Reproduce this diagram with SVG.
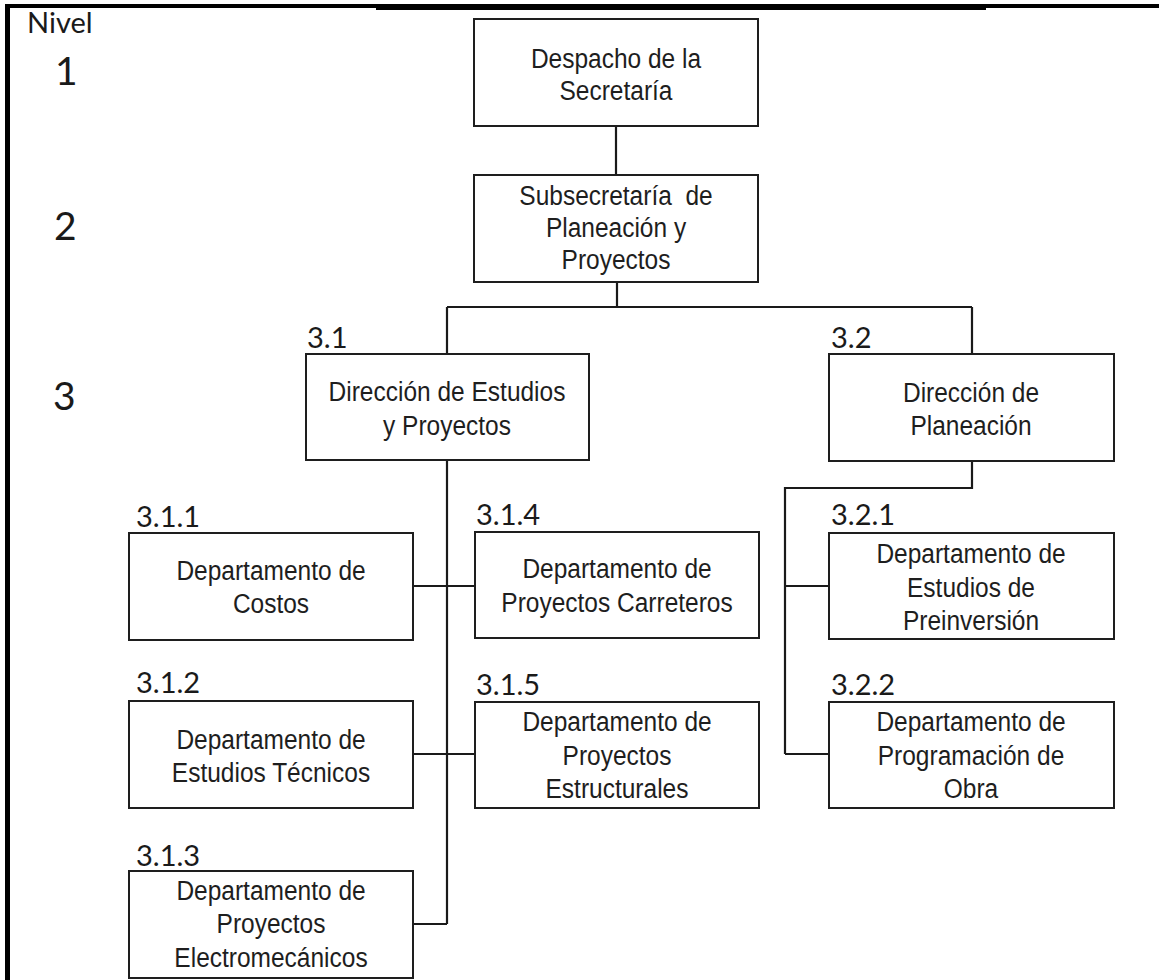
<svg xmlns="http://www.w3.org/2000/svg" width="1159" height="980" viewBox="0 0 1159 980">
  <style>
    .box { fill: #ffffff; stroke: #1e1e1e; stroke-width: 2; }
    .wire { fill: none; stroke: #1a1a1a; stroke-width: 2.2; }
    .t { font-family: "Liberation Sans", Arial, sans-serif; font-size: 28px; fill: #1e1e1e; text-anchor: middle; }
    .code { font-family: Lato, "Open Sans", "Liberation Sans", sans-serif; font-size: 29px; fill: #1a1a1a; }
    .lvl { font-family: Lato, "Open Sans", "Liberation Sans", sans-serif; font-size: 39px; fill: #1a1a1a; }
  </style>

  <rect x="0" y="0" width="1159" height="980" fill="#ffffff"/>

  <!-- page frame -->
  <g id="frame" fill="#000000">
    <rect x="5" y="4" width="1154" height="4"/>
    <rect x="376" y="4" width="610" height="6"/>
    <rect x="5" y="4" width="5" height="976"/>
  </g>

  <!-- level column -->
  <g id="levels">
    <text class="code" x="27" y="33">Nivel</text>
    <text class="lvl" x="55" y="85">1</text>
    <text class="lvl" x="54" y="240">2</text>
    <text class="lvl" x="53" y="410">3</text>
  </g>

  <!-- connectors -->
  <g id="connectors">
    <path class="wire" d="M616 126 V175"/>
    <path class="wire" d="M617 282 V307 M447 307 H972 M447 307 V354 M972 307 V354"/>
    <path class="wire" d="M447 460 V924 M413 586 H475 M413 754 H475 M413 924 H447"/>
    <path class="wire" d="M972 461 V488 H785 V754 M785 586 H829 M785 754 H829"/>
  </g>

  <!-- box labels use a condensed sans: regular face squeezed horizontally -->
  <g id="despacho">
    <rect class="box" x="474" y="19" width="284" height="107"/>
    <text class="t" transform="translate(616 68) scale(0.875 1)">Despacho de la</text>
    <text class="t" transform="translate(616 100) scale(0.875 1)">Secretaría</text>
  </g>

  <g id="subsecretaria">
    <rect class="box" x="474" y="175" width="284" height="107"/>
    <text class="t" transform="translate(616 205) scale(0.875 1)" xml:space="preserve">Subsecretaría  de</text>
    <text class="t" transform="translate(616 237) scale(0.875 1)">Planeación y</text>
    <text class="t" transform="translate(616 269) scale(0.875 1)">Proyectos</text>
  </g>

  <g id="n3-1">
    <text class="code" x="307" y="348">3.1</text>
    <rect class="box" x="306" y="354" width="283" height="106"/>
    <text class="t" transform="translate(447 401) scale(0.875 1)">Dirección de Estudios</text>
    <text class="t" transform="translate(447 435) scale(0.875 1)">y Proyectos</text>
  </g>

  <g id="n3-2">
    <text class="code" x="831" y="348">3.2</text>
    <rect class="box" x="829" y="354" width="285" height="107"/>
    <text class="t" transform="translate(971 402) scale(0.875 1)">Dirección de</text>
    <text class="t" transform="translate(971 435) scale(0.875 1)">Planeación</text>
  </g>

  <g id="n3-1-1">
    <text class="code" x="136" y="527">3.1.1</text>
    <rect class="box" x="129" y="533" width="284" height="107"/>
    <text class="t" transform="translate(271 580) scale(0.875 1)">Departamento de</text>
    <text class="t" transform="translate(271 613) scale(0.875 1)">Costos</text>
  </g>

  <g id="n3-1-2">
    <text class="code" x="136" y="693">3.1.2</text>
    <rect class="box" x="129" y="701" width="284" height="107"/>
    <text class="t" transform="translate(271 749) scale(0.875 1)">Departamento de</text>
    <text class="t" transform="translate(271 782) scale(0.875 1)">Estudios Técnicos</text>
  </g>

  <g id="n3-1-3">
    <text class="code" x="136" y="866">3.1.3</text>
    <rect class="box" x="129" y="871" width="284" height="107"/>
    <text class="t" transform="translate(271 900) scale(0.875 1)">Departamento de</text>
    <text class="t" transform="translate(271 933) scale(0.875 1)">Proyectos</text>
    <text class="t" transform="translate(271 967) scale(0.875 1)">Electromecánicos</text>
  </g>

  <g id="n3-1-4">
    <text class="code" x="476" y="525">3.1.4</text>
    <rect class="box" x="475" y="532" width="284" height="106"/>
    <text class="t" transform="translate(617 578) scale(0.875 1)">Departamento de</text>
    <text class="t" transform="translate(617 612) scale(0.875 1)">Proyectos Carreteros</text>
  </g>

  <g id="n3-1-5">
    <text class="code" x="476" y="695">3.1.5</text>
    <rect class="box" x="475" y="702" width="284" height="106"/>
    <text class="t" transform="translate(617 731) scale(0.875 1)">Departamento de</text>
    <text class="t" transform="translate(617 765) scale(0.875 1)">Proyectos</text>
    <text class="t" transform="translate(617 798) scale(0.875 1)">Estructurales</text>
  </g>

  <g id="n3-2-1">
    <text class="code" x="831" y="525">3.2.1</text>
    <rect class="box" x="829" y="533" width="285" height="106"/>
    <text class="t" transform="translate(971 563) scale(0.875 1)">Departamento de</text>
    <text class="t" transform="translate(971 597) scale(0.875 1)">Estudios de</text>
    <text class="t" transform="translate(971 630) scale(0.875 1)">Preinversión</text>
  </g>

  <g id="n3-2-2">
    <text class="code" x="831" y="695">3.2.2</text>
    <rect class="box" x="829" y="702" width="285" height="106"/>
    <text class="t" transform="translate(971 731) scale(0.875 1)">Departamento de</text>
    <text class="t" transform="translate(971 765) scale(0.875 1)">Programación de</text>
    <text class="t" transform="translate(971 798) scale(0.875 1)">Obra</text>
  </g>
</svg>
